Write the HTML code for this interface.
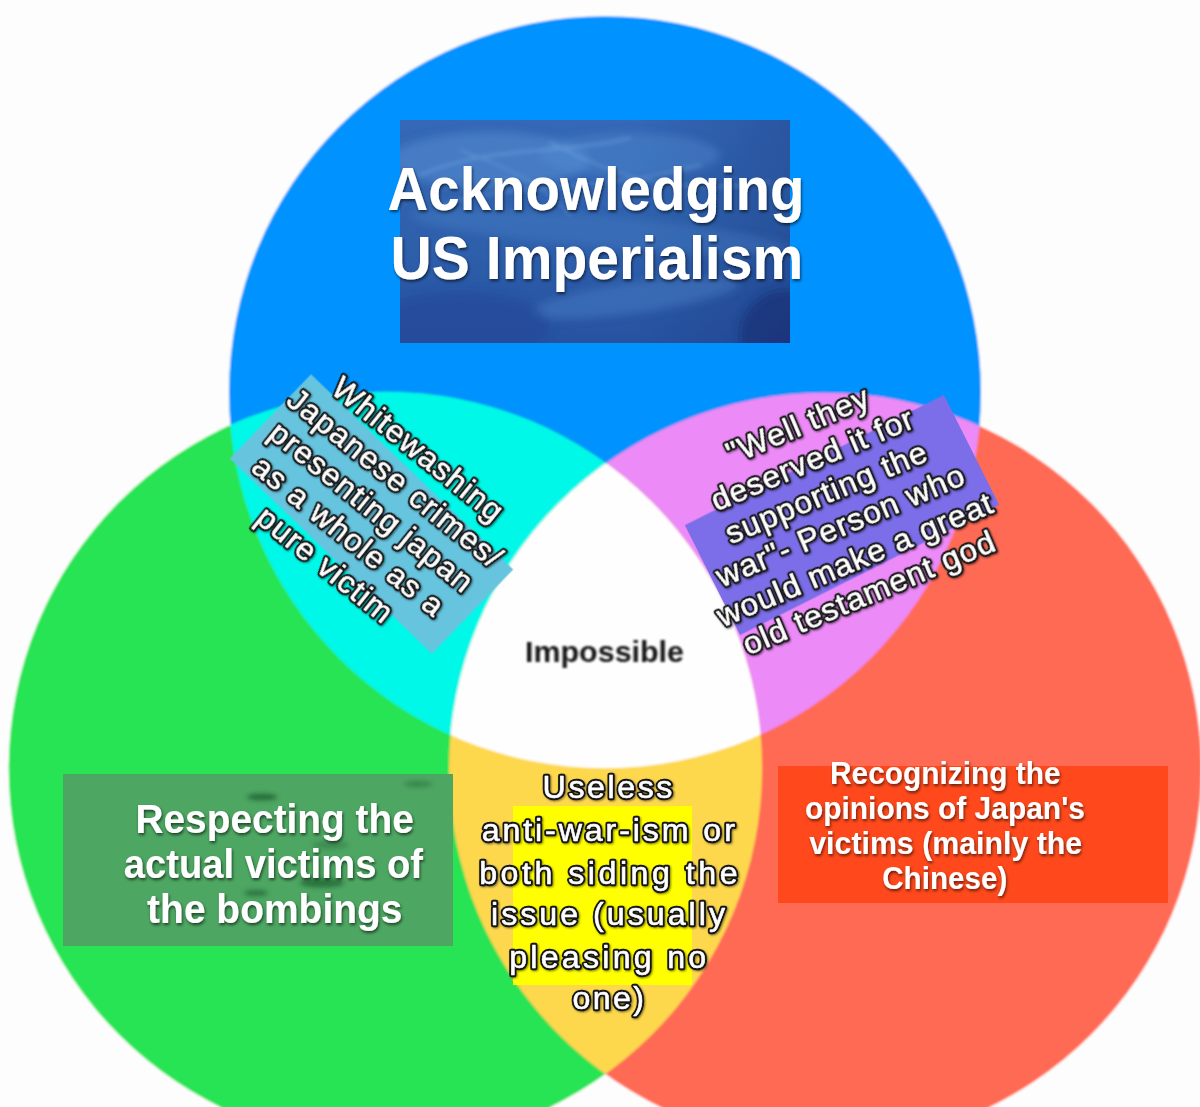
<!DOCTYPE html>
<html><head><meta charset="utf-8">
<style>
html,body{margin:0;padding:0;}
body{width:1200px;height:1107px;overflow:hidden;background:#fdfdfd;}
svg{display:block;}
text{font-family:"Liberation Sans",sans-serif;}
.bt{font-weight:bold;fill:#fff;}
.it{font-weight:bold;fill:#141414;}
.ob{fill:#111;stroke:#141414;stroke-width:4.4;stroke-linejoin:round;}
.ow{fill:#fff;stroke:#fff;stroke-width:0.6;stroke-linejoin:round;}
</style></head>
<body>
<svg width="1200" height="1107" viewBox="0 0 1200 1107">
<defs>
<clipPath id="kb"><circle cx="605" cy="392.3" r="376" fill="#000" /></clipPath>
<clipPath id="kg"><circle cx="385.4" cy="768.4" r="376.7" fill="#000" /></clipPath>
<clipPath id="kr"><circle cx="825.1" cy="768.8" r="376" fill="#000" /></clipPath>
<filter id="bl" filterUnits="userSpaceOnUse" x="-20" y="-20" width="1240" height="1150"><feGaussianBlur stdDeviation="0.9"/></filter>
<filter id="ds" filterUnits="userSpaceOnUse" x="0" y="0" width="1200" height="1107">
 <feGaussianBlur in="SourceAlpha" stdDeviation="1.6"/><feOffset dx="1" dy="2" result="o"/>
 <feComponentTransfer in="o" result="s"><feFuncA type="linear" slope="0.6"/></feComponentTransfer>
 <feMerge><feMergeNode in="s"/><feMergeNode in="SourceGraphic"/></feMerge></filter>
<filter id="os" filterUnits="userSpaceOnUse" x="0" y="0" width="1200" height="1107">
 <feGaussianBlur in="SourceAlpha" stdDeviation="1.2"/><feOffset dx="0.5" dy="1" result="o"/>
 <feComponentTransfer in="o" result="s"><feFuncA type="linear" slope="0.5"/></feComponentTransfer>
 <feMerge><feMergeNode in="s"/><feMergeNode in="SourceGraphic"/></feMerge></filter>
<filter id="tbfg" filterUnits="userSpaceOnUse" x="0" y="0" width="1200" height="1107"><feGaussianBlur stdDeviation="2.2"/></filter>
<filter id="soft" filterUnits="userSpaceOnUse" x="0" y="0" width="1200" height="1107"><feGaussianBlur stdDeviation="0.6"/></filter>
<filter id="imp" filterUnits="userSpaceOnUse" x="0" y="0" width="1200" height="1107"><feGaussianBlur stdDeviation="1.0"/></filter>
<linearGradient id="tb" x1="0" y1="0" x2="0" y2="1">
 <stop offset="0" stop-color="#3468b6"/><stop offset="0.45" stop-color="#2f62ae"/><stop offset="1" stop-color="#2852a0"/></linearGradient>
<radialGradient id="hl1" cx="0.5" cy="0.5" r="0.5"><stop offset="0" stop-color="#6b9fd6" stop-opacity="0.55"/><stop offset="1" stop-color="#6b9fd6" stop-opacity="0"/></radialGradient>
</defs>
<g filter="url(#bl)">
<rect x="0" y="0" width="1200" height="1107" fill="#fdfdfd"/>
<circle cx="605" cy="392.3" r="376" fill="#0092ff" />
<circle cx="385.4" cy="768.4" r="376.7" fill="#28e453" />
<circle cx="825.1" cy="768.8" r="376" fill="#ff6a55" />
<g clip-path="url(#kb)"><circle cx="385.4" cy="768.4" r="376.7" fill="#05f8e9" /></g>
<g clip-path="url(#kb)"><circle cx="825.1" cy="768.8" r="376" fill="#ec8af8" /></g>
<g clip-path="url(#kg)"><circle cx="825.1" cy="768.8" r="376" fill="#fdd84e" /></g>
<g clip-path="url(#kb)"><g clip-path="url(#kg)"><circle cx="825.1" cy="768.8" r="376" fill="#fefefe" /></g></g>
</g>
<g filter="url(#soft)">
<rect x="400" y="120" width="390" height="223" fill="url(#tb)"/>
<svg x="400" y="120" width="390" height="223"><defs><filter id="tbf" x="-10%" y="-10%" width="120%" height="120%"><feGaussianBlur stdDeviation="4"/></filter>
<filter id="tbf2" x="-10%" y="-10%" width="120%" height="120%"><feGaussianBlur stdDeviation="2.2"/></filter>
<linearGradient id="tbr" x1="0" y1="0" x2="1" y2="0"><stop offset="0.6" stop-color="#142c70" stop-opacity="0"/><stop offset="1" stop-color="#142c70" stop-opacity="0.3"/></linearGradient></defs>
<rect x="0" y="0" width="390" height="223" fill="url(#tbr)"/>
<g filter="url(#tbf)">
<ellipse cx="90" cy="40" rx="100" ry="28" fill="#5d97da" opacity="0.45"/>
<ellipse cx="230" cy="35" rx="90" ry="22" fill="#5b93d6" opacity="0.35"/>
<ellipse cx="200" cy="112" rx="190" ry="16" fill="#4f88cc" opacity="0.3" transform="rotate(5 200 112)"/>
<ellipse cx="235" cy="178" rx="105" ry="15" fill="#4d88cc" opacity="0.4" transform="rotate(-8 235 178)"/>
<ellipse cx="60" cy="205" rx="90" ry="35" fill="#1f4696" opacity="0.5"/>
<ellipse cx="385" cy="215" rx="45" ry="45" fill="#132c6c" opacity="0.55"/>
</g>
<g filter="url(#tbf2)" fill="none" stroke="#86b8ee" stroke-linecap="round" opacity="0.35">
<path d="M20 55 C 90 25, 160 35, 230 18" stroke-width="3"/>
<path d="M40 85 C 120 62, 200 72, 300 45" stroke-width="2.5"/>
<path d="M150 22 C 220 60, 280 75, 370 62" stroke-width="2.5"/>
<path d="M60 30 C 100 45, 140 60, 170 95" stroke-width="2"/>
</g></svg>
<rect x="-140.5" y="-58.5" width="281" height="117" fill="#66c4de" transform="translate(371.5,514) rotate(44)"/>
<rect x="-145.0" y="-61.5" width="290" height="123" fill="#7c6ee8" transform="translate(842,515) rotate(-26.7)"/>
<rect x="63" y="774" width="390" height="172" fill="#4ea662"/>
<rect x="778" y="766" width="390" height="137" fill="#ff4a1c"/>
<rect x="513" y="806" width="179" height="179" fill="#ffff00"/>
<g filter="url(#tbfg)"><ellipse cx="262" cy="797" rx="15" ry="3.5" fill="#1d5e30" opacity="0.75"/><ellipse cx="322" cy="883" rx="22" ry="4.5" fill="#1d5e30" opacity="0.7"/><ellipse cx="256" cy="893" rx="12" ry="3.5" fill="#1d5e30" opacity="0.6"/><ellipse cx="418" cy="784" rx="14" ry="3" fill="#1d5e30" opacity="0.45"/><ellipse cx="330" cy="845" rx="18" ry="4" fill="#1d5e30" opacity="0.35"/></g>
</g>
<g filter="url(#imp)"><text class="it" font-size="29.00" transform="translate(525.02,662.00) scale(1.0496,1)">Impossible</text></g>
<g filter="url(#ds)">
<text class="bt" font-size="61.30" transform="translate(387.59,210.00) scale(0.9207,1)">Acknowledging</text>
<text class="bt" font-size="61.30" transform="translate(390.57,278.70) scale(0.9319,1)">US Imperialism</text>
<text class="bt" font-size="40.60" transform="translate(135.47,833.00) scale(0.9570,1)">Respecting the</text>
<text class="bt" font-size="40.60" transform="translate(123.75,878.10) scale(0.9411,1)">actual victims of</text>
<text class="bt" font-size="40.60" transform="translate(147.11,923.20) scale(0.9599,1)">the bombings</text>
<text class="bt" font-size="31.90" transform="translate(830.06,783.70) scale(0.9363,1)">Recognizing the</text>
<text class="bt" font-size="31.90" transform="translate(804.90,818.70) scale(0.9391,1)">opinions of Japan's</text>
<text class="bt" font-size="31.90" transform="translate(809.25,853.70) scale(0.9509,1)">victims (mainly the</text>
<text class="bt" font-size="31.90" transform="translate(882.21,888.70) scale(0.9287,1)">Chinese)</text>
</g>
<g filter="url(#os)">
<text class="ob" font-size="32.20" letter-spacing="2.553" x="542.59" y="797.50">Useless</text>
<text class="ob" font-size="32.20" letter-spacing="2.885" x="481.65" y="841.25">anti-war-ism or</text>
<text class="ob" font-size="32.20" letter-spacing="3.506" x="479.16" y="883.75">both siding the</text>
<text class="ob" font-size="32.20" letter-spacing="3.002" x="491.01" y="925.00">issue (usually</text>
<text class="ob" font-size="32.20" letter-spacing="3.243" x="509.16" y="967.50">pleasing no</text>
<text class="ob" font-size="32.20" letter-spacing="2.323" x="572.46" y="1008.75">one)</text>
<text class="ow" font-size="32.20" letter-spacing="2.553" x="542.59" y="797.50">Useless</text>
<text class="ow" font-size="32.20" letter-spacing="2.885" x="481.65" y="841.25">anti-war-ism or</text>
<text class="ow" font-size="32.20" letter-spacing="3.506" x="479.16" y="883.75">both siding the</text>
<text class="ow" font-size="32.20" letter-spacing="3.002" x="491.01" y="925.00">issue (usually</text>
<text class="ow" font-size="32.20" letter-spacing="3.243" x="509.16" y="967.50">pleasing no</text>
<text class="ow" font-size="32.20" letter-spacing="2.323" x="572.46" y="1008.75">one)</text>
<g transform="translate(371.5,506.7) rotate(38.8)"><text class="ob" text-anchor="middle" font-size="31.5" letter-spacing="1.2" x="0.60" y="-62.77">Whitewashing</text><text class="ob" text-anchor="middle" font-size="31.5" letter-spacing="1.2" x="0.60" y="-25.88">Japanese crimes/</text><text class="ob" text-anchor="middle" font-size="31.5" letter-spacing="1.2" x="0.60" y="11.02">presenting japan</text><text class="ob" text-anchor="middle" font-size="31.5" letter-spacing="1.2" x="0.60" y="47.92">as a whole as a</text><text class="ob" text-anchor="middle" font-size="31.5" letter-spacing="1.2" x="0.60" y="84.82">pure victim</text><text class="ow" text-anchor="middle" font-size="31.5" letter-spacing="1.2" x="0.60" y="-62.77">Whitewashing</text><text class="ow" text-anchor="middle" font-size="31.5" letter-spacing="1.2" x="0.60" y="-25.88">Japanese crimes/</text><text class="ow" text-anchor="middle" font-size="31.5" letter-spacing="1.2" x="0.60" y="11.02">presenting japan</text><text class="ow" text-anchor="middle" font-size="31.5" letter-spacing="1.2" x="0.60" y="47.92">as a whole as a</text><text class="ow" text-anchor="middle" font-size="31.5" letter-spacing="1.2" x="0.60" y="84.82">pure victim</text></g>
<g transform="translate(833,509) rotate(-23)"><text class="ob" text-anchor="middle" font-size="32" letter-spacing="1.0" x="0.50" y="-79.55">&quot;Well they</text><text class="ob" text-anchor="middle" font-size="32" letter-spacing="1.0" x="0.50" y="-43.25">deserved it for</text><text class="ob" text-anchor="middle" font-size="32" letter-spacing="1.0" x="0.50" y="-6.95">supporting the</text><text class="ob" text-anchor="middle" font-size="32" letter-spacing="1.0" x="0.50" y="29.35">war&quot;- Person who</text><text class="ob" text-anchor="middle" font-size="32" letter-spacing="1.0" x="0.50" y="65.65">would make a great</text><text class="ob" text-anchor="middle" font-size="32" letter-spacing="1.0" x="0.50" y="101.95">old testament god</text><text class="ow" text-anchor="middle" font-size="32" letter-spacing="1.0" x="0.50" y="-79.55">&quot;Well they</text><text class="ow" text-anchor="middle" font-size="32" letter-spacing="1.0" x="0.50" y="-43.25">deserved it for</text><text class="ow" text-anchor="middle" font-size="32" letter-spacing="1.0" x="0.50" y="-6.95">supporting the</text><text class="ow" text-anchor="middle" font-size="32" letter-spacing="1.0" x="0.50" y="29.35">war&quot;- Person who</text><text class="ow" text-anchor="middle" font-size="32" letter-spacing="1.0" x="0.50" y="65.65">would make a great</text><text class="ow" text-anchor="middle" font-size="32" letter-spacing="1.0" x="0.50" y="101.95">old testament god</text></g>
</g>
</svg>
</body></html>
